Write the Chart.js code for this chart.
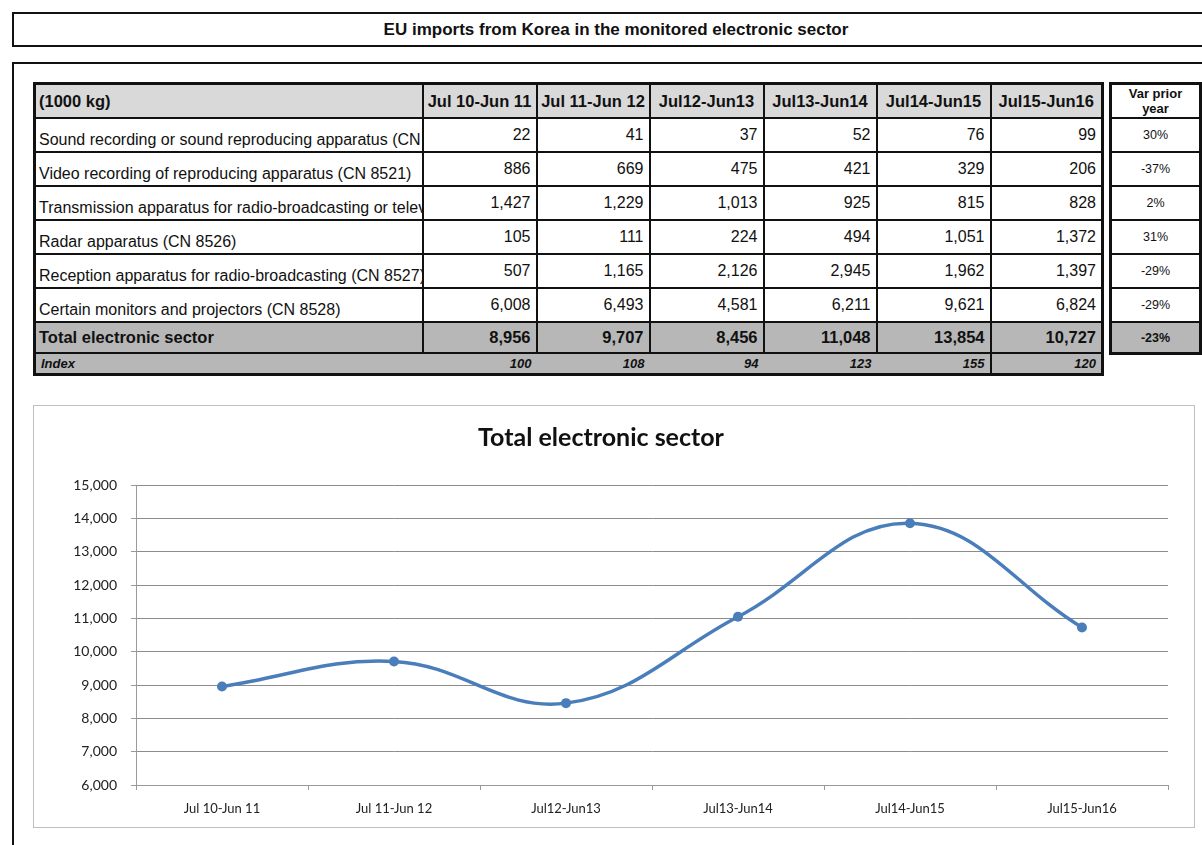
<!DOCTYPE html>
<html>
<head>
<meta charset="utf-8">
<script src="https://cdn.jsdelivr.net/npm/chart.js@4"></script>
<style>
  body { margin: 0; width: 1202px; height: 845px; overflow: hidden; background: #fff; font-family: "Liberation Sans", Arial, sans-serif; position: relative; }
  #titleBox { position: absolute; left: 12px; top: 12px; width: 1204px; height: 31px; border: 2px solid #111; text-align: center; font-weight: bold; font-size: 17px; line-height: 31px; color: #111; }
  #panel { position: absolute; left: 12px; top: 62px; width: 1220px; height: 820px; border-left: 2px solid #111; border-top: 2px solid #111; }
  table { border-collapse: collapse; table-layout: fixed; position: absolute; color: #111; }
  td { border: 2px solid #111; padding: 0 5px; white-space: nowrap; overflow: hidden; font-size: 16px; }
  #dataTable { left: 33px; top: 82px; width: 1068px; border: 3px solid #111; }
  #dataTable td.num { text-align: right; }
  #dataTable tr.head td { background: #d9d9d9; font-weight: bold; font-size: 16.5px; height: 32px; text-align: center; padding: 0 1px; }
  #dataTable tr.head td:first-child { text-align: left; padding-left: 3px; }
  #dataTable tr.row td { height: 30px; }
  #dataTable tr.row td:first-child { padding-left: 3px; vertical-align: bottom; padding-bottom: 2px; text-overflow: clip; }
  #dataTable tr.total td { background: #b7b7b7; font-weight: bold; font-size: 16.5px; height: 29px; }
  #dataTable tr.total td:first-child { padding-left: 3px; }
  #dataTable tr.idx td { background: #b7b7b7; font-weight: bold; font-style: italic; font-size: 13px; height: 19px; border-left: none; border-right: none; }
  #dataTable tr.idx td:last-child { border-left: 2px solid #111; }
  #varTable { left: 1109px; top: 82px; width: 90px; border: 3px solid #111; }
  #varTable td { text-align: center; font-size: 12.5px; height: 32px; padding: 0 2px; }
  #varTable tr.head td { font-weight: bold; font-size: 13px; height: 32px; line-height: 15px; white-space: normal; }
  #varTable tr.total td { background: #b7b7b7; font-weight: bold; height: 29px; }
  #chartBox { position: absolute; left: 33px; top: 405px; width: 1160px; height: 421px; border: 1px solid #bfbfbf; background: #fff; }
</style>
</head>
<body>
<div id="titleBox">EU imports from Korea in the monitored electronic sector</div>
<div id="panel"></div>
<table id="dataTable"></table>
<table id="varTable"></table>
<div id="chartBox"><canvas id="totalChart"></canvas></div>
<script>
// periods
const periods = ['Jul 10-Jun 11', 'Jul 11-Jun 12', 'Jul12-Jun13', 'Jul13-Jun14', 'Jul14-Jun15', 'Jul15-Jun16'];

// product rows (1000 kg)
const productNames = [
  'Sound recording or sound reproducing apparatus (CN 8519)',
  'Video recording of reproducing apparatus (CN 8521)',
  'Transmission apparatus for radio-broadcasting or television (CN 8525)',
  'Radar apparatus (CN 8526)',
  'Reception apparatus for radio-broadcasting (CN 8527)',
  'Certain monitors and projectors (CN 8528)'
];
const soundValues = [22, 41, 37, 52, 76, 99];
const videoValues = [886, 669, 475, 421, 329, 206];
const transmissionValues = [1427, 1229, 1013, 925, 815, 828];
const radarValues = [105, 111, 224, 494, 1051, 1372];
const receptionValues = [507, 1165, 2126, 2945, 1962, 1397];
const monitorValues = [6008, 6493, 4581, 6211, 9621, 6824];

const totalValues = [8956, 9707, 8456, 11048, 13854, 10727];
const indexValues = [100, 108, 94, 123, 155, 120];
const varPriorYear = ['30%', '-37%', '2%', '31%', '-29%', '-29%'];
const varTotal = '-23%';

// y axis ticks
const yMin = 6000;
const yMax = 15000;
const yStep = 1000;

const colWidths = [388, 114, 113, 114, 113, 114, 112];
const fmt = v => v.toLocaleString('en-US');

// 표 만들기
function buildTables() {
  const rows = [soundValues, videoValues, transmissionValues, radarValues, receptionValues, monitorValues];
  let html = '<colgroup>' + colWidths.map(w => `<col style="width:${w}px">`).join('') + '</colgroup>';
  html += '<tr class="head"><td>(1000 kg)</td>' + periods.map(p => `<td>${p}</td>`).join('') + '</tr>';
  rows.forEach((vals, i) => {
    html += `<tr class="row"><td>${productNames[i]}</td>` + vals.map(v => `<td class="num">${fmt(v)}</td>`).join('') + '</tr>';
  });
  html += '<tr class="total"><td>Total electronic sector</td>' + totalValues.map(v => `<td class="num">${fmt(v)}</td>`).join('') + '</tr>';
  html += '<tr class="idx"><td>Index</td>' + indexValues.map(v => `<td class="num">${v}</td>`).join('') + '</tr>';
  document.getElementById('dataTable').innerHTML = html;

  let vhtml = '<colgroup><col style="width:90px"></colgroup>';
  vhtml += '<tr class="head"><td>Var prior year</td></tr>';
  varPriorYear.forEach(v => { vhtml += `<tr><td>${v}</td></tr>`; });
  vhtml += `<tr class="total"><td>${varTotal}</td></tr>`;
  document.getElementById('varTable').innerHTML = vhtml;
}

// 차트 만들기
function createTotalChart() {
  const ctx = document.getElementById('totalChart').getContext('2d');
  new Chart(ctx, {
    type: 'line',
    data: {
      labels: periods,
      datasets: [{
        label: 'Total electronic sector',
        data: totalValues,
        borderColor: '#4a7ebb',
        backgroundColor: '#4a7ebb',
        borderWidth: 3.5,
        tension: 0.4,
        pointRadius: 5,
        pointBorderWidth: 0
      }]
    },
    options: {
      responsive: true,
      maintainAspectRatio: false,
      animation: false,
      layout: { padding: { left: 0, right: 26, top: 0, bottom: 0 } },
      plugins: {
        legend: { display: false },
        tooltip: { enabled: false },
        title: {
          display: true,
          text: 'Total electronic sector',
          color: '#111',
          font: { family: 'Lato', size: 25, weight: 'bold' },
          padding: { top: 17, bottom: 32 }
        }
      },
      scales: {
        y: {
          min: yMin,
          max: yMax,
          ticks: {
            stepSize: yStep,
            color: '#222',
            font: { family: 'Lato', size: 14 },
            padding: 14,
            callback: v => fmt(v)
          },
          grid: { color: '#8c8c8c', lineWidth: 1, tickLength: 5, tickColor: '#9a9a9a' },
          border: { color: '#9a9a9a', width: 1 },
          afterFit: s => { s.width = 102; }
        },
        x: {
          offset: true,
          ticks: { color: '#222', font: { family: 'Lato', size: 13 }, padding: 11, maxRotation: 0 },
          grid: { offset: true, drawOnChartArea: false, tickLength: 5, color: '#9a9a9a' },
          border: { color: '#9a9a9a', width: 1 },
          afterFit: s => { s.height = 42; }
        }
      }
    }
  });
}

buildTables();
createTotalChart();
</script>
</body>
</html>
